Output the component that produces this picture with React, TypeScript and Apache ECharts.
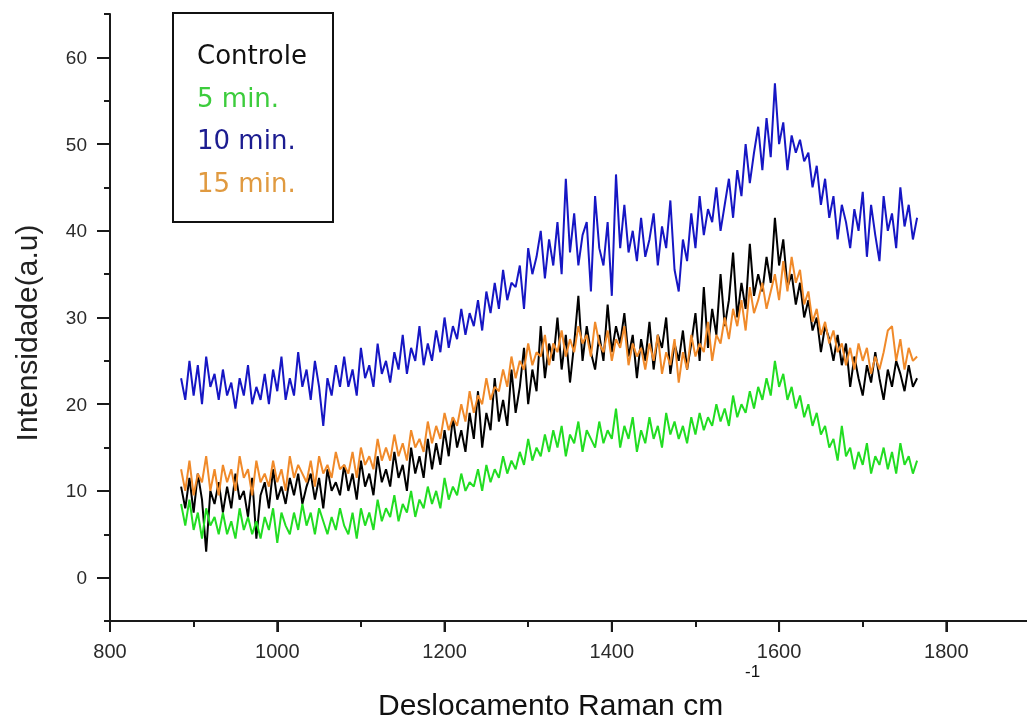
import React, { useEffect, useRef } from "react";
import * as echarts from "echarts";

// Raman shift sample positions (cm-1)
const ramanShift = [
  885, 890, 895, 900, 905, 910, 915, 920, 925, 930,
  935, 940, 945, 950, 955, 960, 965, 970, 975, 980,
  985, 990, 995, 1000, 1005, 1010, 1015, 1020, 1025, 1030,
  1035, 1040, 1045, 1050, 1055, 1060, 1065, 1070, 1075, 1080,
  1085, 1090, 1095, 1100, 1105, 1110, 1115, 1120, 1125, 1130,
  1135, 1140, 1145, 1150, 1155, 1160, 1165, 1170, 1175, 1180,
  1185, 1190, 1195, 1200, 1205, 1210, 1215, 1220, 1225, 1230,
  1235, 1240, 1245, 1250, 1255, 1260, 1265, 1270, 1275, 1280,
  1285, 1290, 1295, 1300, 1305, 1310, 1315, 1320, 1325, 1330,
  1335, 1340, 1345, 1350, 1355, 1360, 1365, 1370, 1375, 1380,
  1385, 1390, 1395, 1400, 1405, 1410, 1415, 1420, 1425, 1430,
  1435, 1440, 1445, 1450, 1455, 1460, 1465, 1470, 1475, 1480,
  1485, 1490, 1495, 1500, 1505, 1510, 1515, 1520, 1525, 1530,
  1535, 1540, 1545, 1550, 1555, 1560, 1565, 1570, 1575, 1580,
  1585, 1590, 1595, 1600, 1605, 1610, 1615, 1620, 1625, 1630,
  1635, 1640, 1645, 1650, 1655, 1660, 1665, 1670, 1675, 1680,
  1685, 1690, 1695, 1700, 1705, 1710, 1715, 1720, 1725, 1730,
  1735, 1740, 1745, 1750, 1755, 1760, 1765,
];

const controle = [
  10.5, 8, 11.5, 7.5, 12, 9, 3, 10, 8.5, 11,
  7.5, 10.5, 8, 12, 9, 10, 7, 11.5, 4.5, 9.5,
  11, 8, 12.5, 9, 10.5, 8.5, 11.5, 9.5, 12, 8.5,
  10.5, 12, 9, 11.5, 8, 12.5, 10, 11, 9.5, 13,
  10, 12, 9, 13.5, 10.5, 12, 9.5, 14, 11, 12.5,
  10.5, 14.5, 11.5, 13, 10, 15, 12, 14, 11.5, 16,
  12.5, 15.5, 13, 17, 14, 18.5, 15, 17, 14.5, 19,
  16, 21.5, 15, 19, 17, 23, 18, 20.5, 17.5, 24,
  19, 22, 26.5, 20, 24, 21.5, 29, 23, 27, 25,
  30, 24, 28, 22.5, 27, 32.5, 25, 29, 26, 24,
  28, 25, 31.5, 26, 29, 27, 30.5, 25.5, 28, 23,
  27.5, 25, 29.5, 24, 28, 26.5, 30, 23.5, 27, 25,
  28.5, 24, 27, 30.5, 25, 33.5, 26.5, 31, 28, 35,
  29, 32, 37.5, 30, 34, 31, 38.5, 32.5, 35, 33,
  37, 34, 41.5, 36, 39, 33.5, 35, 31.5, 34, 30,
  32, 28.5, 30, 26, 29, 27.5, 25, 28, 24.5, 27,
  22, 25.5, 23, 21, 24.5, 22.5, 26, 23, 20.5, 24,
  22, 25, 23.5, 21.5, 24.5, 22, 23,
];

const min5 = [
  8.5, 6, 9, 5.5, 7.5, 4.5, 8, 6, 7, 5,
  7.5, 5, 6.5, 4.5, 8, 5.5, 7, 5, 6.5, 4.5,
  7, 5.5, 8, 4, 7.5, 6, 5, 7.5, 5.5, 8.5,
  6, 7.5, 5, 8, 6.5, 5, 7, 5.5, 8, 6,
  5, 7.5, 4.5, 8, 6, 7.5, 5.5, 9, 6.5, 8,
  7, 9.5, 6.5, 8.5, 7.5, 10, 7, 9, 8, 10.5,
  8.5, 10, 8, 11.5, 9, 10.5, 9.5, 12, 10, 11,
  10.5, 12.5, 10, 13, 11, 12.5, 11.5, 14, 12, 13.5,
  12.5, 14.5, 13, 16, 13.5, 15, 14, 16.5, 14.5, 17,
  15, 17.5, 14, 16.5, 15.5, 18, 14.5, 17, 16, 15,
  18, 15.5, 17, 16, 19.5, 15, 17.5, 16, 18.5, 14.5,
  17, 15.5, 18.5, 16, 17.5, 15, 19, 16.5, 18, 16,
  17.5, 15.5, 18.5, 16.5, 19, 17, 18.5, 17.5, 20, 18,
  19.5, 17.5, 21, 18.5, 20, 19, 21.5, 19.5, 22, 20.5,
  23, 21, 25, 22, 23.5, 20.5, 22, 19.5, 21, 18.5,
  20, 17.5, 19, 16.5, 17.5, 15, 16, 13.5, 17.5, 14,
  15, 12.5, 14.5, 13, 15.5, 12, 14, 13, 15, 12.5,
  14.5, 12, 15.5, 13, 14, 12, 13.5,
];

const min10 = [
  23, 20.5, 25, 21, 24.5, 20, 25.5, 22, 23.5, 20.5,
  24, 21, 22.5, 19.5, 23, 21, 24.5, 20, 22, 20.5,
  23.5, 20, 24, 21.5, 25.5, 20.5, 23, 21, 26, 22,
  24, 20.5, 25, 22, 17.5, 23, 21, 24.5, 22, 25.5,
  22, 24, 21, 26.5, 23, 24.5, 22, 27, 23.5, 25,
  22.5, 26, 24, 28, 23.5, 26.5, 25, 29, 24.5, 27,
  25, 28.5, 26, 30, 26.5, 29, 27.5, 31, 28, 30.5,
  29, 32, 28.5, 33, 30.5, 34, 31, 35.5, 32, 34,
  33.5, 36, 31, 38, 35, 37, 40, 34.5, 39, 36,
  41, 35, 46, 37.5, 42, 36, 39.5, 41, 33, 44,
  38, 36, 41, 32.5, 46.5, 38, 43, 37.5, 40, 36.5,
  41.5, 37, 39, 42, 36, 40.5, 38, 43.5, 35.5, 33,
  39, 36.5, 42, 38, 44, 39.5, 42.5, 41, 45, 40,
  43, 46, 41.5, 47, 44, 50, 45.5, 49, 52, 47,
  53, 48.5, 57, 50, 52.5, 47, 51, 49, 50.5, 48,
  49, 45, 47.5, 43, 46, 41.5, 44, 39, 43, 41,
  38, 42.5, 40, 44.5, 37, 43, 39.5, 36.5, 44, 40,
  42, 38, 45, 40.5, 43, 39, 41.5,
];

const min15 = [
  12.5, 10, 13.5, 9.5, 12, 11, 14, 10, 12.5, 9.5,
  13, 11, 12.5, 10, 14, 11.5, 12.5, 9.5, 13.5, 11,
  12, 10.5, 13.5, 11, 12.5, 10, 14, 11.5, 13, 12,
  11, 13.5, 10.5, 14, 12, 13, 11.5, 14.5, 12.5, 13,
  12, 14.5, 11.5, 15, 13, 14, 12.5, 16, 13.5, 15,
  13.5, 16.5, 14, 15.5, 13.5, 17, 15, 16, 14.5, 18,
  15.5, 17.5, 16, 19, 17, 18.5, 17.5, 20, 18, 21.5,
  19, 21, 20, 23, 20.5, 22, 21.5, 24, 22, 25.5,
  23, 25, 24, 27, 24.5, 26, 25.5, 28, 24.5, 27,
  26, 28.5, 25.5, 27.5, 26, 29, 27, 28, 25.5, 29.5,
  27, 26, 28.5, 25, 27.5, 26.5, 29, 24.5, 27, 25.5,
  26.5, 24, 27, 25, 28, 23.5, 26, 24.5, 27.5, 22.5,
  26, 24, 28, 25.5, 27, 26, 29.5, 25, 28, 27,
  30, 27.5, 31, 29, 32, 28.5, 33.5, 30.5, 32, 34,
  31, 33, 35, 32, 36.5, 33, 37, 34, 35.5, 31.5,
  33, 29.5, 31, 28, 29.5, 27, 28.5, 26, 27, 24.5,
  26.5, 24, 27, 25, 26.5, 23.5, 25.5, 24, 26, 28.5,
  29, 25, 27.5, 24, 26.5, 25, 25.5,
];

const seriesNames = ["Controle", "5 min.", "10 min.", "15 min."];
const xTickLabels = [800, 1000, 1200, 1400, 1600, 1800];
const yTickLabels = [0, 10, 20, 30, 40, 50, 60];

const lineColors = ["#000000", "#22dd22", "#1616c4", "#f08a2a"];
const legendColors = ["#111111", "#3ccc3c", "#1c1c90", "#e09a40"];

const FONT = "'Liberation Sans', Arial, sans-serif";

export default function App() {
  const ref = useRef<HTMLDivElement>(null);

  useEffect(() => {
    if (!ref.current) return;
    const chart = echarts.init(ref.current, null, { renderer: "svg" });
    const values = [controle, min5, min10, min15];
    const toPairs = (ys: number[]) => ramanShift.map((x, i) => [x, ys[i]]);

    const ink = "#1a1a1a";
    // plot box: x 800..1900 over 920 px, y -5..65 over 607 px
    const pxX = 920 / 1100;
    const pxY = 607 / 70;

    const lineSeries = seriesNames.map((name, i) => ({
      name,
      type: "line",
      xAxisIndex: 0,
      yAxisIndex: 0,
      data: toPairs(values[i]),
      symbol: "none",
      showSymbol: false,
      color: lineColors[i],
      lineStyle: { color: lineColors[i], width: 2 },
      z: 2 + i,
    }));

    // major x ticks drawn through the axis scale (api.coord), below the axis line
    const majorTickSeries = {
      name: "xMajorTicks",
      type: "custom",
      xAxisIndex: 0,
      yAxisIndex: 0,
      silent: true,
      clip: false,
      z: 20,
      data: xTickLabels.map((v) => [v, -5]),
      renderItem: (_params: any, api: any) => {
        const p = api.coord([api.value(0), api.value(1)]);
        return {
          type: "line",
          shape: { x1: p[0], y1: p[1], x2: p[0], y2: p[1] + 11 },
          style: { stroke: ink, lineWidth: 2 },
        };
      },
    };

    chart.setOption({
      animation: false,
      grid: [
        { left: 110, top: 14, width: 920, height: 607, outerBoundsMode: "none" },
        { left: 110, top: 14 + 5 * pxY, width: 920, height: 60 * pxY, outerBoundsMode: "none" },
        { left: 110 + 100 * pxX, top: 14, width: 1000 * pxX, height: 607, outerBoundsMode: "none" },
        { left: 110, top: 14, width: 920, height: 626, outerBoundsMode: "none" },
      ],
      xAxis: [
        {
          type: "value",
          gridIndex: 0,
          min: 800,
          max: 1900,
          interval: 200,
          position: "bottom",
          axisLine: { show: true, onZero: false, lineStyle: { color: ink, width: 2 } },
          axisTick: { show: true, length: 11, lineStyle: { color: ink, width: 2 } },
          axisLabel: { show: false },
          splitLine: { show: false },
        },
        { type: "value", gridIndex: 1, min: 800, max: 1900, position: "bottom", show: false },
        {
          type: "value",
          gridIndex: 2,
          min: 900,
          max: 1900,
          interval: 200,
          position: "bottom",
          axisLine: { show: false, onZero: false },
          axisTick: { show: true, length: 6, lineStyle: { color: ink, width: 2 } },
          axisLabel: { show: false },
          splitLine: { show: false },
        },
        {
          type: "value",
          gridIndex: 3,
          min: 800,
          max: 1900,
          interval: 200,
          position: "bottom",
          axisLine: { show: false, onZero: false },
          axisTick: { show: false },
          axisLabel: {
            show: true,
            margin: 1,
            fontSize: 20,
            color: "#2a2a2a",
            fontFamily: FONT,
            formatter: (v: number) => (xTickLabels.indexOf(v) >= 0 ? String(v) : ""),
          },
          splitLine: { show: false },
        },
      ],
      yAxis: [
        {
          type: "value",
          gridIndex: 0,
          min: -5,
          max: 65,
          interval: 10,
          position: "left",
          axisLine: { show: true, onZero: false, lineStyle: { color: ink, width: 2 } },
          axisTick: { show: true, length: 6, lineStyle: { color: ink, width: 2 } },
          axisLabel: { show: false },
          splitLine: { show: false },
        },
        {
          type: "value",
          gridIndex: 1,
          min: 0,
          max: 60,
          interval: 10,
          position: "left",
          axisLine: { show: false, onZero: false },
          axisTick: { show: true, length: 13, lineStyle: { color: ink, width: 2 } },
          axisLabel: {
            show: true,
            margin: 23,
            fontSize: 19,
            color: "#2a2a2a",
            fontFamily: FONT,
            formatter: (v: number) => (yTickLabels.indexOf(v) >= 0 ? String(v) : ""),
          },
          splitLine: { show: false },
        },
        { type: "value", gridIndex: 2, min: -5, max: 65, position: "left", show: false },
        { type: "value", gridIndex: 3, min: -5, max: 65, position: "left", show: false },
      ],
      legend: {
        show: true,
        orient: "vertical",
        left: 192,
        top: 42,
        padding: 0,
        icon: "none",
        itemWidth: 0,
        itemHeight: 26,
        itemGap: 16.5,
        selectedMode: false,
        textStyle: { fontSize: 26, lineHeight: 26, fontFamily: "'DejaVu Sans', sans-serif" },
        data: seriesNames.map((n, i) => ({ name: n, textStyle: { color: legendColors[i] } })),
      },
      graphic: [
        {
          type: "rect",
          shape: { x: 173, y: 13, width: 160, height: 209 },
          style: { fill: "transparent", stroke: "#111", lineWidth: 2 },
          z: 10,
        },
        {
          type: "text",
          x: 378,
          y: 704,
          style: { text: "Deslocamento Raman cm", fontSize: 30, fontFamily: FONT, fill: "#111", align: "left", verticalAlign: "middle" },
        },
        {
          type: "text",
          x: 745,
          y: 671,
          style: { text: "-1", fontSize: 17, fontFamily: FONT, fill: "#111", align: "left", verticalAlign: "middle" },
        },
        {
          type: "text",
          x: 26,
          y: 333,
          rotation: Math.PI / 2,
          style: { text: "Intensidade(a.u)", fontSize: 30, fontFamily: FONT, fill: "#222", align: "center", verticalAlign: "middle" },
        },
      ],
      series: [...lineSeries, majorTickSeries],
    });

    return () => chart.dispose();
  }, []);

  return (
    <div
      ref={ref}
      style={{ position: "fixed", left: 0, top: 0, width: 1027, height: 724 }}
    />
  );
}
